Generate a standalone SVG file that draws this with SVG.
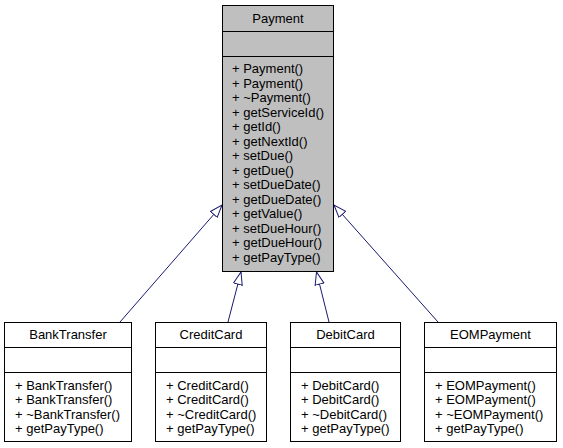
<svg xmlns="http://www.w3.org/2000/svg" width="563" height="448" viewBox="0 0 563 448">
<defs>
<style>
.box{fill:#ffffff;stroke:#000000;stroke-width:1}
.base{fill:#bfbfbf;stroke:#000000;stroke-width:1}
.sep{stroke:#000000;stroke-width:1}
text{font-family:"Liberation Sans",Arial,sans-serif;font-size:13px;fill:#000000}
.t{text-anchor:middle}
.edge{stroke:#191970;stroke-width:1;fill:none;marker-end:url(#inh)}
</style>
<marker id="inh" markerUnits="userSpaceOnUse" markerWidth="16" markerHeight="12" refX="13" refY="5" orient="auto" viewBox="0 0 16 10">
<path d="M0.5,0.5 L13,5 L0.5,9.5 Z" fill="#ffffff" stroke="#191970" stroke-width="1"/>
</marker>
</defs>
<rect width="563" height="448" fill="#ffffff"/>
<g id="connectors">
<line class="edge" x1="120" y1="322" x2="222" y2="205"/>
<line class="edge" x1="228" y1="322" x2="241" y2="272"/>
<line class="edge" x1="329" y1="322" x2="316.5" y2="272"/>
<line class="edge" x1="438" y1="322" x2="334" y2="205"/>
</g>
<g id="Payment">
<rect class="base" x="222.5" y="5.5" width="111" height="266"/>
<line class="sep" x1="222.5" y1="31.5" x2="333.5" y2="31.5"/>
<line class="sep" x1="222.5" y1="56.5" x2="333.5" y2="56.5"/>
<text class="t" x="278" y="23">Payment</text>
<text x="232" y="73">+ Payment()</text>
<text x="232" y="87.5">+ Payment()</text>
<text x="232" y="102">+ ~Payment()</text>
<text x="232" y="116.5">+ getServiceId()</text>
<text x="232" y="131">+ getId()</text>
<text x="232" y="145.5">+ getNextId()</text>
<text x="232" y="160">+ setDue()</text>
<text x="232" y="174.5">+ getDue()</text>
<text x="232" y="189">+ setDueDate()</text>
<text x="232" y="203.5">+ getDueDate()</text>
<text x="232" y="218">+ getValue()</text>
<text x="232" y="232.5">+ setDueHour()</text>
<text x="232" y="247">+ getDueHour()</text>
<text x="232" y="261.5">+ getPayType()</text>
</g>
<g id="BankTransfer">
<rect class="box" x="4.5" y="322.5" width="127" height="119"/>
<line class="sep" x1="4.5" y1="347.5" x2="131.5" y2="347.5"/>
<line class="sep" x1="4.5" y1="372.5" x2="131.5" y2="372.5"/>
<text class="t" x="68" y="339">BankTransfer</text>
<text x="15" y="389.5">+ BankTransfer()</text>
<text x="15" y="404">+ BankTransfer()</text>
<text x="15" y="418.5">+ ~BankTransfer()</text>
<text x="15" y="433">+ getPayType()</text>
</g>
<g id="CreditCard">
<rect class="box" x="155.5" y="322.5" width="111" height="119"/>
<line class="sep" x1="155.5" y1="347.5" x2="266.5" y2="347.5"/>
<line class="sep" x1="155.5" y1="372.5" x2="266.5" y2="372.5"/>
<text class="t" x="211" y="339">CreditCard</text>
<text x="166" y="389.5">+ CreditCard()</text>
<text x="166" y="404">+ CreditCard()</text>
<text x="166" y="418.5">+ ~CreditCard()</text>
<text x="166" y="433">+ getPayType()</text>
</g>
<g id="DebitCard">
<rect class="box" x="290.5" y="322.5" width="110" height="119"/>
<line class="sep" x1="290.5" y1="347.5" x2="400.5" y2="347.5"/>
<line class="sep" x1="290.5" y1="372.5" x2="400.5" y2="372.5"/>
<text class="t" x="345.5" y="339">DebitCard</text>
<text x="301" y="389.5">+ DebitCard()</text>
<text x="301" y="404">+ DebitCard()</text>
<text x="301" y="418.5">+ ~DebitCard()</text>
<text x="301" y="433">+ getPayType()</text>
</g>
<g id="EOMPayment">
<rect class="box" x="424.5" y="322.5" width="132" height="119"/>
<line class="sep" x1="424.5" y1="347.5" x2="556.5" y2="347.5"/>
<line class="sep" x1="424.5" y1="372.5" x2="556.5" y2="372.5"/>
<text class="t" x="490.5" y="339">EOMPayment</text>
<text x="435" y="389.5">+ EOMPayment()</text>
<text x="435" y="404">+ EOMPayment()</text>
<text x="435" y="418.5">+ ~EOMPayment()</text>
<text x="435" y="433">+ getPayType()</text>
</g>
</svg>
